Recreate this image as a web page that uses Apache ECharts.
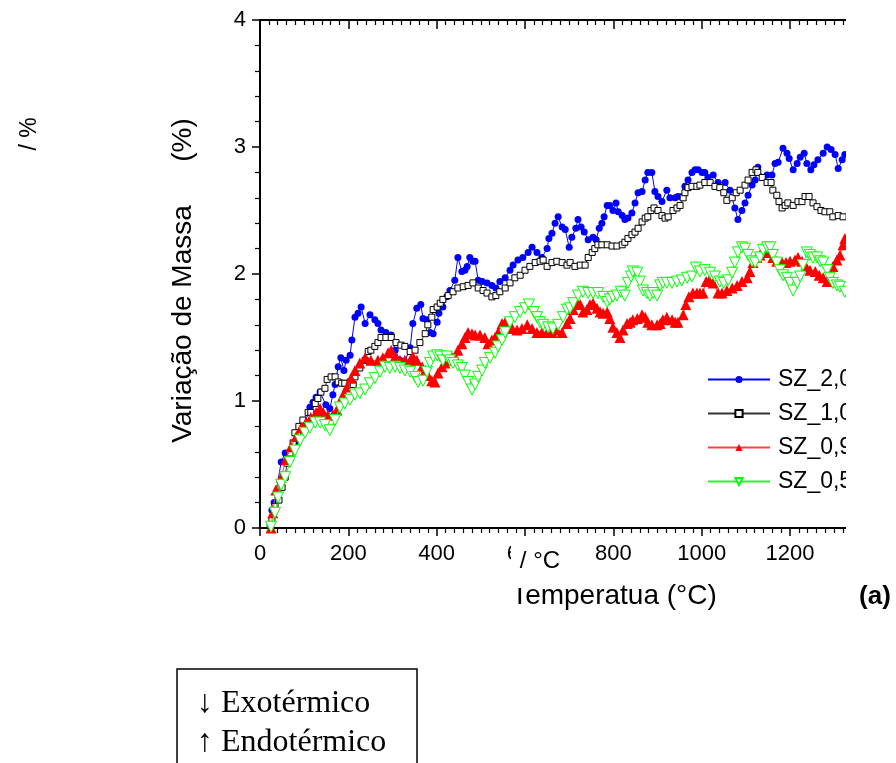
<!DOCTYPE html>
<html><head><meta charset="utf-8">
<script src="https://cdn.jsdelivr.net/npm/echarts@6/dist/echarts.min.js"></script>
<style>html,body{margin:0;padding:0;background:#fff}#c{width:896px;height:763px}</style>
</head><body><div id="c"></div>
<script>
// Temperature (°C) vs mass variation (%)
const seriesNames = ['SZ_2,0', 'SZ_1,0', 'SZ_0,9', 'SZ_0,5'];
const xTickValues = [0, 200, 400, 600, 800, 1000, 1200];
const yTickValues = [0, 1, 2, 3, 4];

const sz20 = [[27,0.14],[32,0.20],[48,0.52],[57,0.59],[79,0.67],[97,0.77],[113,0.95],[120,0.99],[127,1.03],[136,1.07],[149,0.97],[158,0.94],[165,1.05],[170,1.13],[177,1.27],[183,1.34],[190,1.24],[195,1.32],[204,1.36],[208,1.48],[215,1.66],[222,1.69],[229,1.74],[238,1.61],[249,1.68],[260,1.64],[267,1.61],[274,1.56],[285,1.54],[297,1.52],[306,1.40],[317,1.32],[328,1.31],[340,1.42],[346,1.61],[355,1.73],[364,1.76],[369,1.65],[378,1.64],[385,1.54],[392,1.53],[401,1.62],[405,1.69],[414,1.74],[423,1.82],[430,1.87],[441,1.95],[448,2.13],[457,2.02],[464,2.03],[469,2.06],[475,2.13],[482,2.10],[487,2.10],[494,1.95],[503,1.94],[514,1.93],[525,1.91],[534,1.89],[543,1.94],[555,1.97],[566,2.03],[573,2.07],[584,2.11],[595,2.13],[607,2.17],[616,2.21],[627,2.17],[638,2.13],[650,2.20],[654,2.28],[661,2.32],[668,2.40],[675,2.45],[684,2.37],[691,2.35],[700,2.21],[706,2.29],[715,2.36],[720,2.43],[727,2.37],[734,2.33],[743,2.27],[754,2.29],[761,2.27],[768,2.36],[774,2.40],[779,2.45],[786,2.54],[792,2.54],[799,2.50],[806,2.56],[811,2.49],[820,2.46],[826,2.43],[833,2.44],[842,2.48],[849,2.56],[856,2.64],[865,2.65],[872,2.74],[878,2.80],[887,2.80],[894,2.65],[901,2.61],[910,2.57],[921,2.66],[928,2.60],[940,2.60],[946,2.61],[955,2.61],[962,2.69],[969,2.74],[978,2.80],[985,2.82],[992,2.82],[1001,2.80],[1007,2.80],[1014,2.76],[1026,2.78],[1037,2.72],[1053,2.72],[1064,2.66],[1075,2.52],[1082,2.43],[1091,2.50],[1098,2.56],[1105,2.62],[1114,2.70],[1121,2.74],[1127,2.84],[1139,2.76],[1148,2.78],[1159,2.78],[1166,2.87],[1173,2.88],[1184,2.99],[1193,2.95],[1198,2.91],[1207,2.82],[1216,2.87],[1223,2.92],[1232,2.95],[1238,2.87],[1247,2.82],[1254,2.86],[1263,2.90],[1275,2.95],[1284,3.00],[1293,2.98],[1302,2.94],[1309,2.83],[1318,2.90],[1324,2.94]];

const sz10 = [[23,0.02],[27,0.06],[34,0.17],[43,0.22],[50,0.32],[57,0.40],[61,0.51],[68,0.59],[75,0.67],[79,0.75],[88,0.80],[97,0.85],[109,0.91],[115,0.91],[125,0.98],[131,1.02],[138,1.07],[147,1.10],[152,1.17],[161,1.19],[170,1.19],[177,1.15],[185,1.14],[192,1.14],[204,1.15],[211,1.13],[215,1.19],[226,1.26],[238,1.32],[245,1.39],[251,1.40],[260,1.43],[267,1.46],[274,1.50],[285,1.50],[297,1.50],[308,1.46],[319,1.44],[328,1.43],[340,1.39],[351,1.40],[362,1.46],[374,1.53],[380,1.60],[389,1.66],[392,1.72],[401,1.74],[408,1.77],[414,1.80],[426,1.83],[437,1.86],[448,1.89],[460,1.90],[471,1.91],[482,1.93],[494,1.89],[505,1.87],[514,1.85],[525,1.82],[534,1.83],[543,1.86],[555,1.89],[566,1.93],[577,1.97],[589,1.99],[600,2.03],[611,2.06],[623,2.09],[634,2.10],[641,2.11],[650,2.06],[661,2.09],[672,2.10],[684,2.09],[695,2.07],[702,2.09],[713,2.06],[725,2.07],[736,2.07],[743,2.13],[752,2.17],[758,2.20],[765,2.23],[774,2.23],[786,2.23],[797,2.22],[808,2.22],[820,2.23],[826,2.25],[833,2.28],[842,2.31],[849,2.33],[856,2.36],[865,2.41],[872,2.44],[878,2.45],[885,2.50],[892,2.52],[901,2.50],[910,2.46],[917,2.44],[924,2.45],[935,2.50],[944,2.52],[951,2.54],[958,2.60],[962,2.64],[969,2.68],[978,2.69],[989,2.69],[996,2.70],[1007,2.72],[1019,2.72],[1030,2.69],[1041,2.68],[1050,2.64],[1057,2.58],[1069,2.60],[1078,2.64],[1087,2.66],[1098,2.70],[1105,2.74],[1114,2.80],[1123,2.82],[1127,2.80],[1137,2.76],[1148,2.72],[1157,2.72],[1161,2.66],[1170,2.62],[1175,2.57],[1182,2.52],[1189,2.54],[1195,2.56],[1207,2.54],[1218,2.57],[1227,2.57],[1234,2.61],[1243,2.61],[1252,2.56],[1261,2.53],[1270,2.50],[1279,2.49],[1290,2.49],[1297,2.45],[1309,2.46],[1320,2.45]];

const sz09 = [[25,0.00],[29,0.12],[36,0.30],[48,0.40],[59,0.54],[70,0.64],[82,0.72],[93,0.79],[104,0.83],[115,0.87],[127,0.91],[136,0.94],[143,0.91],[154,0.89],[165,0.89],[174,0.93],[183,1.01],[190,1.06],[197,1.11],[206,1.18],[215,1.24],[226,1.30],[238,1.34],[251,1.32],[267,1.32],[278,1.34],[290,1.38],[297,1.40],[306,1.35],[317,1.32],[328,1.32],[340,1.32],[346,1.35],[355,1.32],[367,1.27],[374,1.24],[380,1.20],[389,1.16],[396,1.15],[403,1.22],[412,1.27],[419,1.30],[426,1.32],[435,1.34],[441,1.35],[448,1.40],[457,1.45],[464,1.50],[471,1.54],[480,1.53],[487,1.52],[498,1.52],[509,1.50],[516,1.45],[525,1.48],[532,1.50],[539,1.54],[548,1.61],[555,1.62],[561,1.60],[571,1.57],[582,1.56],[593,1.57],[605,1.60],[616,1.57],[627,1.54],[638,1.54],[650,1.54],[661,1.54],[672,1.56],[684,1.54],[695,1.61],[702,1.65],[709,1.72],[718,1.77],[725,1.76],[731,1.70],[740,1.72],[747,1.76],[754,1.77],[763,1.73],[770,1.70],[777,1.69],[786,1.70],[792,1.65],[799,1.58],[808,1.54],[815,1.50],[822,1.56],[831,1.61],[838,1.62],[844,1.64],[854,1.65],[865,1.68],[872,1.66],[878,1.62],[887,1.60],[899,1.60],[906,1.61],[912,1.64],[921,1.66],[933,1.64],[940,1.62],[946,1.62],[958,1.68],[964,1.76],[971,1.82],[980,1.85],[989,1.85],[996,1.85],[1003,1.85],[1010,1.94],[1017,1.95],[1026,1.93],[1037,1.85],[1046,1.85],[1057,1.87],[1069,1.89],[1080,1.91],[1091,1.94],[1103,1.97],[1109,2.02],[1116,2.09],[1125,2.13],[1132,2.15],[1141,2.17],[1148,2.19],[1155,2.17],[1161,2.13],[1170,2.10],[1182,2.09],[1191,2.09],[1200,2.10],[1211,2.11],[1218,2.13],[1227,2.10],[1236,2.06],[1245,2.03],[1257,2.02],[1266,1.99],[1275,1.97],[1284,1.94],[1290,1.99],[1297,2.06],[1306,2.11],[1313,2.15],[1320,2.23],[1324,2.28]];

const sz05 = [[25,0.01],[34,0.12],[41,0.24],[48,0.34],[57,0.40],[68,0.52],[79,0.61],[91,0.69],[102,0.75],[113,0.79],[125,0.83],[136,0.83],[147,0.81],[158,0.77],[170,0.85],[181,0.95],[192,0.98],[204,1.01],[215,1.05],[226,1.06],[238,1.09],[249,1.14],[260,1.18],[272,1.23],[283,1.27],[294,1.26],[306,1.27],[317,1.26],[328,1.24],[340,1.23],[351,1.19],[358,1.15],[369,1.16],[378,1.23],[385,1.30],[392,1.35],[401,1.36],[408,1.35],[414,1.32],[423,1.35],[430,1.32],[437,1.30],[448,1.28],[457,1.26],[464,1.20],[471,1.15],[480,1.09],[487,1.13],[494,1.19],[503,1.24],[509,1.30],[521,1.34],[532,1.38],[539,1.43],[548,1.48],[555,1.54],[566,1.62],[577,1.66],[589,1.70],[600,1.73],[609,1.76],[620,1.70],[627,1.66],[634,1.62],[641,1.60],[652,1.58],[663,1.57],[675,1.60],[686,1.66],[695,1.72],[702,1.73],[709,1.77],[720,1.83],[731,1.86],[743,1.85],[754,1.85],[765,1.85],[777,1.82],[786,1.78],[792,1.80],[799,1.82],[808,1.83],[817,1.86],[826,1.83],[833,1.93],[840,1.98],[844,2.02],[854,2.01],[860,1.94],[867,1.87],[876,1.85],[883,1.83],[890,1.85],[899,1.83],[906,1.91],[912,1.93],[921,1.93],[933,1.93],[944,1.94],[955,1.95],[967,1.97],[978,1.98],[987,2.05],[996,2.02],[1007,2.03],[1019,2.01],[1030,1.98],[1041,1.94],[1050,1.93],[1060,1.95],[1069,2.01],[1075,2.09],[1082,2.17],[1091,2.21],[1098,2.20],[1105,2.15],[1114,2.10],[1121,2.09],[1132,2.13],[1139,2.19],[1148,2.21],[1155,2.21],[1161,2.15],[1170,2.09],[1177,2.03],[1184,1.99],[1193,1.97],[1200,1.93],[1207,1.87],[1216,1.93],[1223,1.98],[1229,2.07],[1238,2.17],[1245,2.15],[1252,2.13],[1261,2.13],[1268,2.10],[1275,2.09],[1284,2.03],[1290,1.97],[1297,1.93],[1306,1.91],[1313,1.90],[1324,1.86]];

const SANS = "'Liberation Sans', Arial, sans-serif";
const SERIF = "'Liberation Serif', 'Times New Roman', serif";

const chart = echarts.init(document.getElementById('c'), null, {renderer: 'canvas'});

const xAxisCommon = {
  type: 'value', min: 0, max: 1400, interval: 200,
  splitLine: {show: false},
  axisLine: {show: true, onZero: false, lineStyle: {color: '#000', width: 2}}
};

const option = {
  animation: false,
  backgroundColor: '#fff',
  grid: {left: 260, top: 20, right: 17.6, bottom: 235, containLabel: false},
  xAxis: [
    Object.assign({}, xAxisCommon, {
      position: 'bottom',
      axisTick: {show: true, inside: false, length: 8, lineStyle: {color: '#000', width: 1.5}},
      minorTick: {show: true, splitNumber: 10, length: 5, lineStyle: {color: '#000', width: 1.2}},
      axisLabel: {
        color: '#000', fontSize: 22, fontFamily: SANS, margin: 15, showMaxLabel: false,
        formatter: v => (xTickValues.indexOf(v) >= 0 ? String(v) : '')
      }
    }),
    Object.assign({}, xAxisCommon, {
      position: 'top',
      axisTick: {show: true, inside: true, length: 9, lineStyle: {color: '#000', width: 1.5}},
      minorTick: {show: true, splitNumber: 10, length: 5, lineStyle: {color: '#000', width: 1.2}},
      axisLabel: {show: false}
    })
  ],
  yAxis: {
    type: 'value', min: 0, max: 4, interval: 1,
    splitLine: {show: false},
    axisLine: {show: true, onZero: false, lineStyle: {color: '#000', width: 2}},
    axisTick: {show: true, inside: false, length: 8, lineStyle: {color: '#000', width: 1.5}},
    minorTick: {show: true, splitNumber: 5, length: 5, lineStyle: {color: '#000', width: 1.2}},
    axisLabel: {
      color: '#000', fontSize: 22, fontFamily: SANS, margin: 14,
      formatter: v => (yTickValues.indexOf(v) >= 0 ? String(v) : '')
    }
  },
  legend: {
    orient: 'vertical', left: 702, top: 363,
    itemWidth: 62, itemHeight: 9, itemGap: 11,
    textStyle: {fontSize: 23, fontFamily: SANS, color: '#000', lineHeight: 22, padding: [0, 0, 0, 3]},
    data: seriesNames
  },
  series: [
    {
      name: seriesNames[0], type: 'line', data: sz20, xAxisIndex: 0,
      symbol: 'circle', symbolSize: 7, showSymbol: true, showAllSymbol: true,
      itemStyle: {color: '#0000ff'}, lineStyle: {color: '#0000ff', width: 1}, z: 2
    },
    {
      name: seriesNames[1], type: 'line', data: sz10, xAxisIndex: 0,
      symbol: 'rect', symbolSize: 6, showSymbol: true, showAllSymbol: true,
      itemStyle: {color: '#ffffff', borderColor: '#000', borderWidth: 1},
      lineStyle: {color: '#333', width: 1}, z: 3
    },
    {
      name: seriesNames[2], type: 'line', data: sz09, xAxisIndex: 0,
      symbol: 'triangle', symbolSize: 11, showSymbol: true, showAllSymbol: true,
      itemStyle: {color: '#ff0000'}, lineStyle: {color: '#ff4040', width: 1}, z: 4
    },
    {
      name: seriesNames[3], type: 'line', data: sz05, xAxisIndex: 0,
      symbol: 'triangle', symbolRotate: 180, symbolSize: 11, showSymbol: true, showAllSymbol: true,
      itemStyle: {color: '#ffffff', borderColor: '#00ff00', borderWidth: 1},
      lineStyle: {color: '#33ee33', width: 1}, z: 5
    }
  ],
  graphic: {
    elements: [
      {type: 'text', x: 183, y: 324, rotation: Math.PI / 2, z: 50,
       style: {text: 'Variação de Massa', font: "28px " + SANS, fill: '#000', textAlign: 'center', textVerticalAlign: 'middle'}},
      {type: 'text', x: 183, y: 140, rotation: Math.PI / 2, z: 50,
       style: {text: '(%)', font: "28px " + SANS, fill: '#000', textAlign: 'center', textVerticalAlign: 'middle'}},
      {type: 'text', x: 30, y: 134, rotation: Math.PI / 2, z: 50,
       style: {text: '/ %', font: "23px " + SANS, fill: '#000', textAlign: 'center', textVerticalAlign: 'middle'}},
      {type: 'text', x: 614, y: 596, z: 50,
       style: {text: 'Temperatua (°C)', font: "28px " + SANS, fill: '#000', textAlign: 'center', textVerticalAlign: 'middle'}},
      {type: 'rect', shape: {x: 511, y: 543, width: 57, height: 45}, z: 60, style: {fill: '#fff'}},
      {type: 'text', x: 540, y: 561, z: 61,
       style: {text: '/ °C', font: "24px " + SANS, fill: '#000', textAlign: 'center', textVerticalAlign: 'middle'}},
      {type: 'rect', shape: {x: 846, y: 0, width: 50, height: 575}, z: 100, style: {fill: '#fff'}},
      {type: 'text', x: 875, y: 597, z: 101,
       style: {text: '(a)', font: "bold 26px " + SANS, fill: '#000', textAlign: 'center', textVerticalAlign: 'middle'}},
      {type: 'rect', shape: {x: 177, y: 669, width: 240, height: 130}, z: 50,
       style: {fill: 'none', stroke: '#000', lineWidth: 1.5}},
      {type: 'text', x: 197, y: 704, z: 51,
       style: {text: '↓ Exotérmico', font: "32px " + SERIF, fill: '#000', textAlign: 'left', textVerticalAlign: 'middle'}},
      {type: 'text', x: 197, y: 743, z: 51,
       style: {text: '↑ Endotérmico', font: "32px " + SERIF, fill: '#000', textAlign: 'left', textVerticalAlign: 'middle'}}
    ]
  }
};
chart.setOption(option);
</script>
</body></html>
